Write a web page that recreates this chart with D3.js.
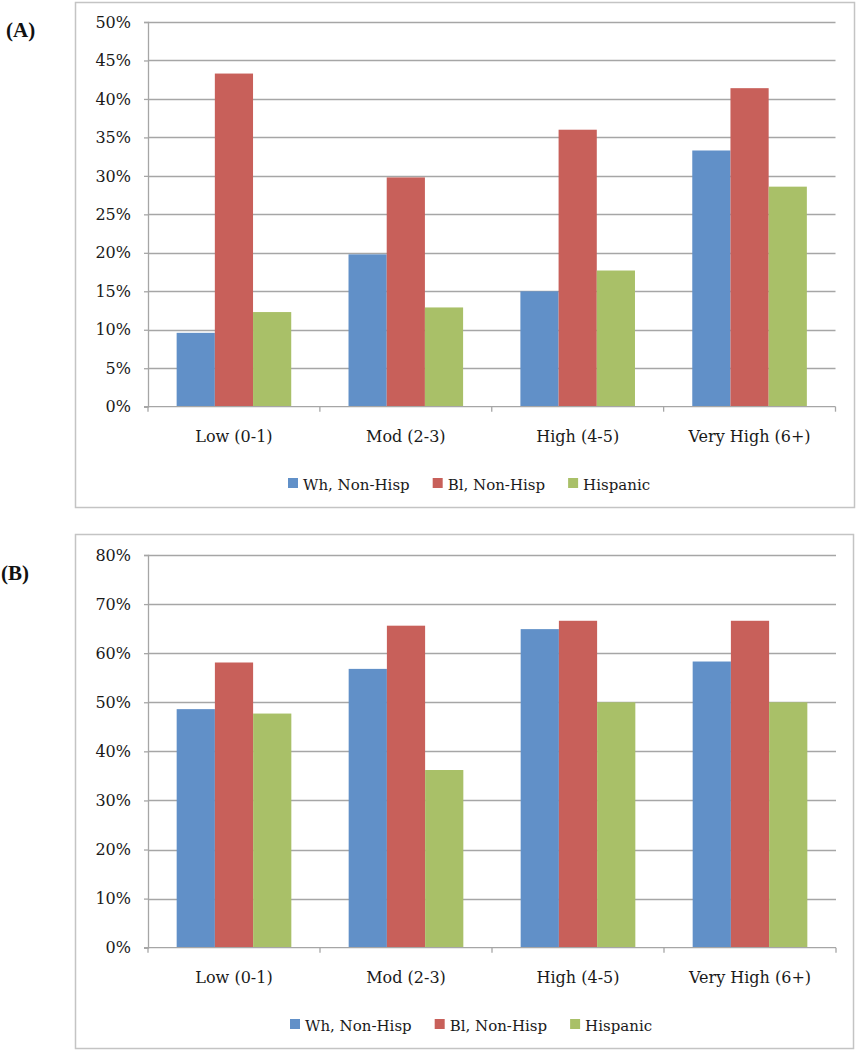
<!DOCTYPE html>
<html>
<head>
<meta charset="utf-8">
<script src="https://cdn.jsdelivr.net/npm/d3@7"></script>
<style>
  html, body { margin: 0; padding: 0; background: #fff; }
  svg { display: block; }
</style>
</head>
<body>
<svg id="chart" width="859" height="1050"></svg>
<script>
// ---- Data ----
const categories = ["Low (0-1)", "Mod (2-3)", "High (4-5)", "Very High (6+)"];
const seriesNames = ["Wh, Non-Hisp", "Bl, Non-Hisp", "Hispanic"];
const seriesColors = ["#6190c8", "#c8605a", "#a9c068"];

const panelA_white    = [9.6, 19.8, 15.0, 33.3];
const panelA_black    = [43.3, 29.8, 36.0, 41.4];
const panelA_hispanic = [12.3, 12.9, 17.7, 28.6];
const panelA_ticks    = [0, 5, 10, 15, 20, 25, 30, 35, 40, 45, 50];

const panelB_white    = [48.6, 56.8, 64.9, 58.3];
const panelB_black    = [58.1, 65.6, 66.6, 66.6];
const panelB_hispanic = [47.7, 36.2, 50.0, 50.0];
const panelB_ticks    = [0, 10, 20, 30, 40, 50, 60, 70, 80];

// ---- Drawing ----
const svg = d3.select("#chart");
const FONT = "'DejaVu Serif', serif";
const GRID = "#a6a6a6";

function drawPanel(cfg) {
  const g = svg.append("g");
  // frame
  g.append("rect")
    .attr("x", cfg.box[0] + 0.5).attr("y", cfg.box[1] + 0.5)
    .attr("width", cfg.box[2] - cfg.box[0]).attr("height", cfg.box[3] - cfg.box[1])
    .attr("fill", "none").attr("stroke", "#c4c4c4").attr("stroke-width", 1.5);

  // panel label
  g.append("text")
    .attr("x", cfg.label[0]).attr("y", cfg.label[1])
    .attr("font-family", "'Liberation Serif', serif")
    .attr("font-weight", "bold").attr("font-size", 21)
    .attr("fill", "#111")
    .text(cfg.labelText);

  const x = d3.scaleBand().domain(categories).range([cfg.left, cfg.right]).padding(0);
  const xs = d3.scaleBand().domain(seriesNames).range([0, x.bandwidth()])
    .paddingInner(0).paddingOuter(0.75);
  const y = d3.scaleLinear().domain([0, cfg.max]).range([cfg.bottom, cfg.top]);

  // gridlines
  g.append("g").selectAll("line").data(cfg.ticks.filter(t => t > 0)).join("line")
    .attr("x1", cfg.left).attr("x2", cfg.right)
    .attr("y1", d => Math.round(y(d)) + 0.5).attr("y2", d => Math.round(y(d)) + 0.5)
    .attr("stroke", GRID).attr("stroke-width", 1.3);

  // bars
  const rows = categories.map((c, i) => ({ c, vals: cfg.series.map(s => s[i]) }));
  const grp = g.append("g").selectAll("g").data(rows).join("g")
    .attr("transform", d => `translate(${x(d.c)},0)`);
  grp.selectAll("rect").data(d => d.vals.map((v, k) => ({ v, k })))
    .join("rect")
    .attr("x", d => xs(seriesNames[d.k]))
    .attr("width", xs.bandwidth())
    .attr("y", d => y(d.v))
    .attr("height", d => y(0) - y(d.v))
    .attr("fill", d => seriesColors[d.k]);

  // y axis
  const yAxis = d3.axisLeft(y).tickValues(cfg.ticks).tickSize(4).tickPadding(13)
    .tickFormat(d => d + "%");
  const ya = g.append("g").attr("transform", `translate(${cfg.left},0)`).call(yAxis);
  ya.select(".domain").attr("stroke", GRID).attr("stroke-width", 1.3);
  ya.selectAll(".tick line").attr("stroke", GRID).attr("stroke-width", 1.3);
  ya.selectAll(".tick text").attr("font-family", FONT).attr("font-size", 16).attr("fill", "#1a1a1a");

  // x axis baseline and boundary ticks
  const xa = g.append("g");
  xa.append("line").attr("x1", cfg.left - 4).attr("x2", cfg.right)
    .attr("y1", y(0)).attr("y2", y(0)).attr("stroke", GRID).attr("stroke-width", 1.3);
  const bounds = categories.map(c => x(c)).concat([cfg.right]);
  xa.selectAll("line.b").data(bounds).join("line").attr("class", "b")
    .attr("x1", d => d).attr("x2", d => d)
    .attr("y1", y(0)).attr("y2", y(0) + 5)
    .attr("stroke", GRID).attr("stroke-width", 1.3);
  xa.selectAll("text").data(categories).join("text")
    .attr("x", d => x(d) + x.bandwidth() / 2)
    .attr("y", y(0) + 35)
    .attr("text-anchor", "middle")
    .attr("font-family", FONT).attr("font-size", 16).attr("fill", "#1a1a1a")
    .text(d => d);

  // legend
  const leg = g.append("g");
  let cx = cfg.legend[0];
  seriesNames.forEach((name, k) => {
    leg.append("rect").attr("x", cx).attr("y", cfg.legend[1] - 12)
      .attr("width", 10).attr("height", 10).attr("fill", seriesColors[k]);
    const t = leg.append("text").attr("x", cx + 15).attr("y", cfg.legend[1])
      .attr("font-family", FONT).attr("font-size", 15).attr("fill", "#1a1a1a").text(name);
    cx += 15 + t.node().getComputedTextLength() + 23;
  });
}

drawPanel({
  box: [75, 2, 854, 507], label: [6, 37], labelText: "(A)",
  left: 148, right: 835.5, top: 22, bottom: 406.7, max: 50,
  ticks: panelA_ticks, series: [panelA_white, panelA_black, panelA_hispanic],
  legend: [288, 490]
});
drawPanel({
  box: [75, 534, 853, 1048], label: [1, 580], labelText: "(B)",
  left: 148, right: 836, top: 555, bottom: 947.7, max: 80,
  ticks: panelB_ticks, series: [panelB_white, panelB_black, panelB_hispanic],
  legend: [290, 1031]
});
</script>
</body>
</html>
